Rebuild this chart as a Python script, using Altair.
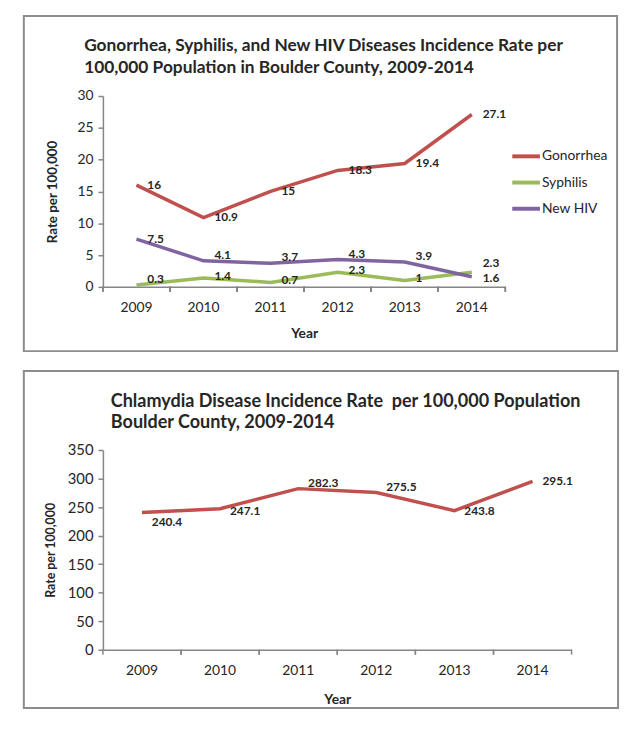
import altair as alt
import pandas as pd

years = ["2009", "2010", "2011", "2012", "2013", "2014"]
gonorrhea = [16, 10.9, 15, 18.3, 19.4, 27.1]
syphilis = [0.3, 1.4, 0.7, 2.3, 1, 2.3]
new_hiv = [7.5, 4.1, 3.7, 4.3, 3.9, 1.6]
chlamydia = [240.4, 247.1, 282.3, 275.5, 243.8, 295.1]
series_names = ["Gonorrhea", "Syphilis", "New HIV"]
series_colors = ["#c0504d", "#9bbb59", "#8064a2"]
top_title = ["Gonorrhea, Syphilis, and New HIV Diseases Incidence Rate per",
             "100,000 Population in Boulder County, 2009-2014"]
bottom_title = ["Chlamydia Disease Incidence Rate\u00a0 per 100,000 Population",
                "Boulder County, 2009-2014"]
y_title = "Rate per 100,000"
x_title = "Year"
top_ticks = [0, 5, 10, 15, 20, 25, 30]
bottom_ticks = [0, 50, 100, 150, 200, 250, 300, 350]

FONT = "Lato"
GRAY = "#868686"
TXT = "#262626"
W1, H1 = 407, 193
W2, H2 = 474, 202

top_df = pd.DataFrame({
    "year": years * 3,
    "series": [s for s in series_names for _ in years],
    "value": gonorrhea + syphilis + new_hiv,
})
top_df["label"] = [f"{v:g}" for v in top_df["value"]]
bot_df = pd.DataFrame({"year": years, "value": chlamydia})
bot_df["label"] = [f"{v:g}" for v in bot_df["value"]]
one = pd.DataFrame({"k": [0]})

xscale = alt.Scale(type="band", paddingInner=0, paddingOuter=0)


def x_axis(lp, tp):
    return alt.Axis(title=x_title, ticks=False, labelAngle=0,
                    labelPadding=lp, titlePadding=tp,
                    labelFontSize=14, titleFontSize=14,
                    titleFontWeight="bold", labelColor=TXT,
                    titleColor=TXT, domainColor=GRAY,
                    domainWidth=1.5, labelFont=FONT, titleFont=FONT)


def y_axis(ticks, lsize, tsize, tp):
    return alt.Axis(title=y_title, values=ticks, grid=False,
                    tickSize=5, tickColor=GRAY, tickWidth=1.5,
                    domainColor=GRAY, domainWidth=1.5,
                    labelFontSize=lsize, labelPadding=5,
                    labelColor=TXT, labelFont=FONT,
                    titleFont=FONT, titleFontSize=tsize,
                    titleFontWeight="bold", titleColor=TXT,
                    titlePadding=tp)


def xe(ax, band=0.5):
    return alt.X("year:N", sort=years, bandPosition=band, scale=xscale, axis=ax)


def ye(ax, domain):
    return alt.Y("value:Q", scale=alt.Scale(domain=domain, nice=False), axis=ax)


def box(w, h, top, right, bottom):
    return alt.Chart(one).mark_rect(filled=False, stroke="#8c8c8c", strokeWidth=2).encode(
        x=alt.value(-80), x2=alt.value(w + right), y=alt.value(top), y2=alt.value(h + bottom))


def title_lines(lines, x, ys, size):
    return [alt.Chart(one).mark_text(align="left", baseline="middle", font=FONT,
                                      fontSize=size, fontWeight="bold", color=TXT).encode(
        x=alt.value(x), y=alt.value(yy), text=alt.value(t)) for t, yy in zip(lines, ys)]


def xticks(df, h, xax):
    out = []
    for b in (0, 1):
        out.append(alt.Chart(df).mark_rule(color=GRAY, strokeWidth=1.5).encode(
            x=xe(xax, b), y=alt.value(h), y2=alt.value(h + 5)))
    return out


s = "datum.series"
yv = "datum.year"

# ---------------- top chart ----------------
D1 = [0, 30]
XA1 = x_axis(14, 12)
YA1 = y_axis(top_ticks, 14, 13.5, 18)

top_lines = alt.Chart(top_df).mark_line(strokeWidth=3.5).encode(
    x=xe(XA1),
    y=ye(YA1, D1),
    color=alt.Color("series:N", scale=alt.Scale(domain=series_names, range=series_colors),
                    legend=alt.Legend(title=None, orient="none", legendX=418, legendY=51,
                                      symbolType="M-1.75,0H1.75", symbolSize=256,
                                      symbolStrokeWidth=4, labelFontSize=14,
                                      labelFont=FONT, labelColor=TXT, labelOffset=6,
                                      rowPadding=8.5, padding=0)),
)


def top_label(expr, dy):
    return alt.Chart(top_df).transform_filter(expr).mark_text(
        align="left", baseline="middle", dx=11, dy=dy, font=FONT, fontSize=12,
        fontWeight="bold", color=TXT).encode(
        x=xe(XA1), y=ye(YA1, D1), text="label:N")


top_labels = [
    top_label(f"{s}=='Gonorrhea' || ({s}=='New HIV' && {yv}=='2009')", 0),
    top_label(f"{s}=='New HIV' && {yv}=='2014'", 1),
    top_label(f"{s}=='Syphilis' && {yv}!='2009' && {yv}!='2014'", -2),
    top_label(f"({s}=='New HIV' && {yv}!='2009' && {yv}!='2014') || ({s}=='Syphilis' && {yv}=='2009')", -6),
    top_label(f"{s}=='Syphilis' && {yv}=='2014'", -9),
]

top = alt.layer(
    box(W1, H1, -81, 113, 65),
    *title_lines(top_title, -19, [-51, -28], 17.5),
    *xticks(top_df, H1, XA1),
    top_lines,
    *top_labels,
).properties(width=W1, height=H1)

# ---------------- bottom chart ----------------
D2 = [0, 350]
XA2 = x_axis(14, 15)
YA2 = y_axis(bottom_ticks, 15, 12.5, 10)

bot_line = alt.Chart(bot_df).mark_line(strokeWidth=3.5, color="#c0504d").encode(
    x=xe(XA2),
    y=ye(YA2, D2),
)


def bot_label(expr, dy):
    return alt.Chart(bot_df).transform_filter(expr).mark_text(
        align="left", baseline="middle", dx=10, dy=dy, font=FONT, fontSize=12,
        fontWeight="bold", color=TXT).encode(
        x=xe(XA2), y=ye(YA2, D2), text="label:N")


bot_labels = [
    bot_label(f"{yv}=='2009'", 10),
    bot_label(f"{yv}=='2010'", 2),
    bot_label(f"{yv}=='2011' || {yv}=='2012'", -6),
    bot_label(f"{yv}=='2013' || {yv}=='2014'", 0),
]

bottom = alt.layer(
    box(W2, H2, -80, 47, 59),
    *title_lines(bottom_title, 8, [-49, -27], 18.2),
    *xticks(bot_df, H2, XA2),
    bot_line,
    *bot_labels,
).properties(width=W2, height=H2)

chart = alt.vconcat(top, bottom, spacing=18).properties(
    padding={"left": 15, "top": 3, "right": 5, "bottom": 5},
    background="white",
).configure_view(stroke=None)

chart.save("out.html", embed_options={"renderer": "svg", "actions": False})
